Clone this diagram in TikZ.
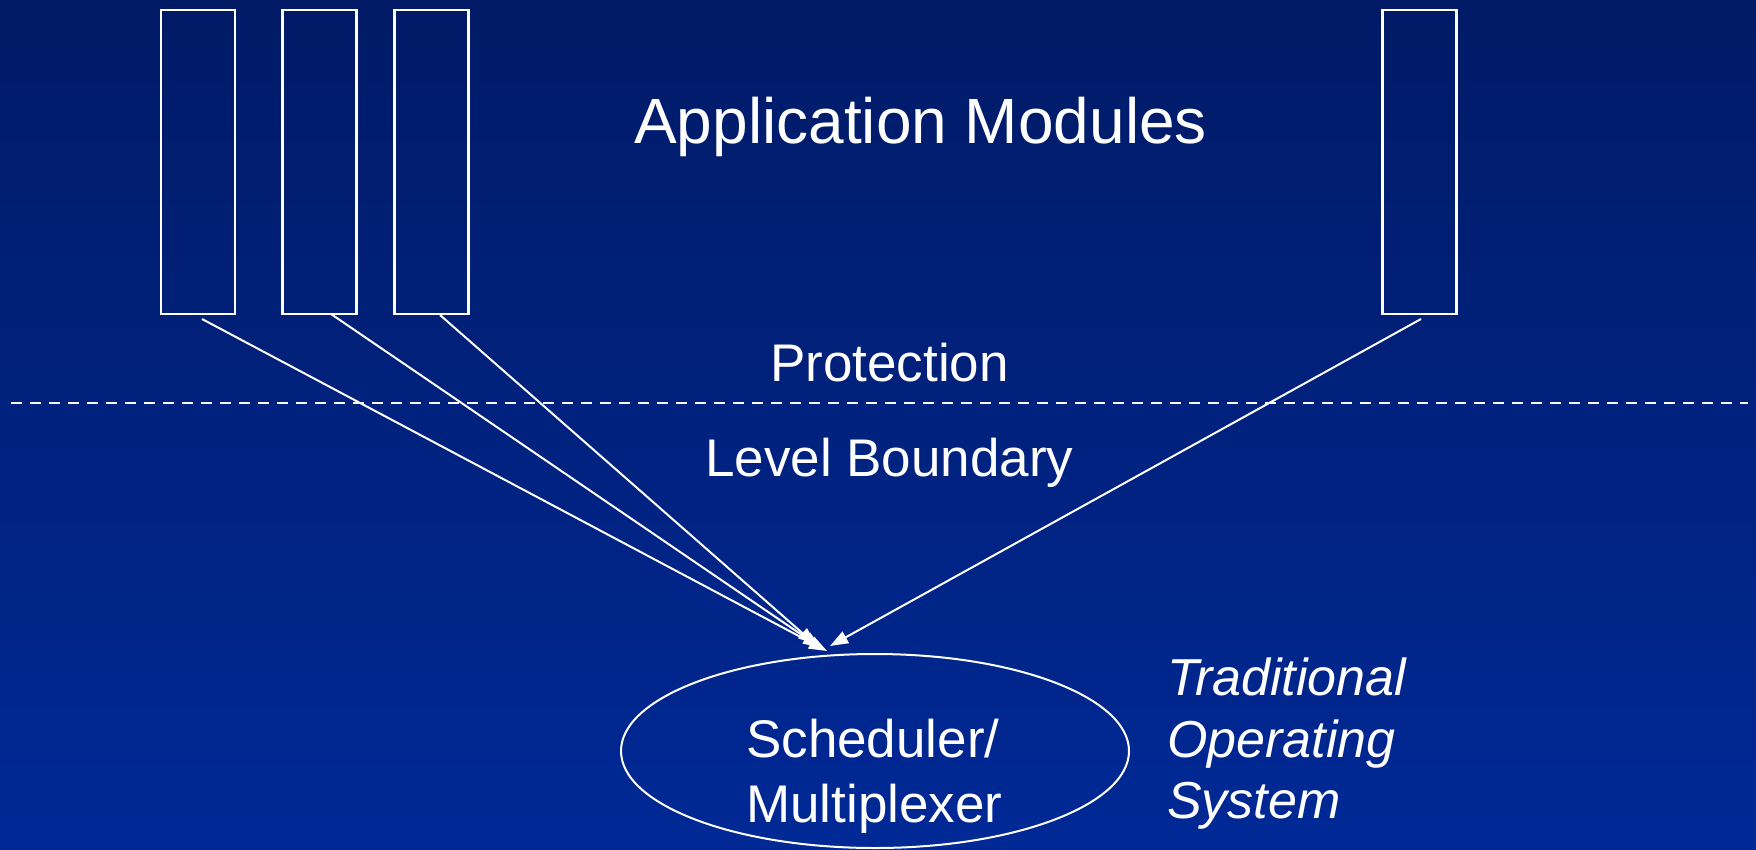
\documentclass[tikz,border=0pt]{standalone}
\usepackage{fontspec}
\setmainfont{Liberation Sans}
\usetikzlibrary{arrows.meta,shapes.geometric}
\definecolor{bgtop}{RGB}{0,26,102}
\definecolor{bgbot}{RGB}{0,41,150}
\tikzset{
  modbox/.style={draw=white, line width=2.2pt, minimum width=74pt, minimum height=304pt, inner sep=0pt},
  conn/.style={draw=white, line width=2pt, -{Triangle[length=18pt,width=13pt]}},
  lbl/.style={text=white, inner sep=0pt, anchor=base west},
}
\begin{document}
\begin{tikzpicture}[x=1pt,y=-1pt]
\useasboundingbox (0,0) rectangle (1756,849);
\shade[top color=bgtop, bottom color=bgbot] (0,0) rectangle (1756,849);

% modules
\node[modbox] (m1) at (198,162) {};
\node[modbox] (m2) at (319.5,162) {};
\node[modbox] (m3) at (431.5,162) {};
\node[modbox] (m4) at (1419.5,162) {};

\node[lbl, font=\fontsize{64}{77}\selectfont] (app) at (634,143) {Application Modules};

% boundary
\coordinate (dl) at (11,403);
\coordinate (dr) at (1748,403);
\draw[white, line width=2pt, dash pattern=on 11pt off 8pt] (dl) -- (dr);
\node[lbl, font=\fontsize{53}{64}\selectfont] (prot) at (770,381) {Protection};
\node[lbl, font=\fontsize{53}{64}\selectfont] (lvl) at (705,476) {Level Boundary};

% scheduler
\node[draw=white, line width=2pt, ellipse, minimum width=508pt, minimum height=194pt, inner sep=0pt] (sched) at (875,751) {};
\node[lbl, font=\fontsize{53}{64}\selectfont] (s1) at (746,757) {Scheduler/};
\node[lbl, font=\fontsize{53}{64}\selectfont] (s2) at (746,822) {Multiplexer};

\node[lbl, font=\fontsize{52}{62}\selectfont\itshape] (t1) at (1167,695) {Traditional};
\node[lbl, font=\fontsize{52}{62}\selectfont\itshape] (t2) at (1167,757) {Operating};
\node[lbl, font=\fontsize{52}{62}\selectfont\itshape] (t3) at (1167,818) {System};

% connectors
\coordinate (a1) at (202,319);
\coordinate (a2) at (331,314);
\coordinate (a3) at (440,315);
\coordinate (a4) at (1421,319);
\coordinate (e1) at (827,651);
\coordinate (e2) at (821,648);
\coordinate (e3) at (816,645);
\coordinate (e4) at (830,646);
\draw[conn] (a1) -- (e1);
\draw[conn] (a2) -- (e2);
\draw[conn] (a3) -- (e3);
\draw[conn] (a4) -- (e4);
\end{tikzpicture}
\end{document}
